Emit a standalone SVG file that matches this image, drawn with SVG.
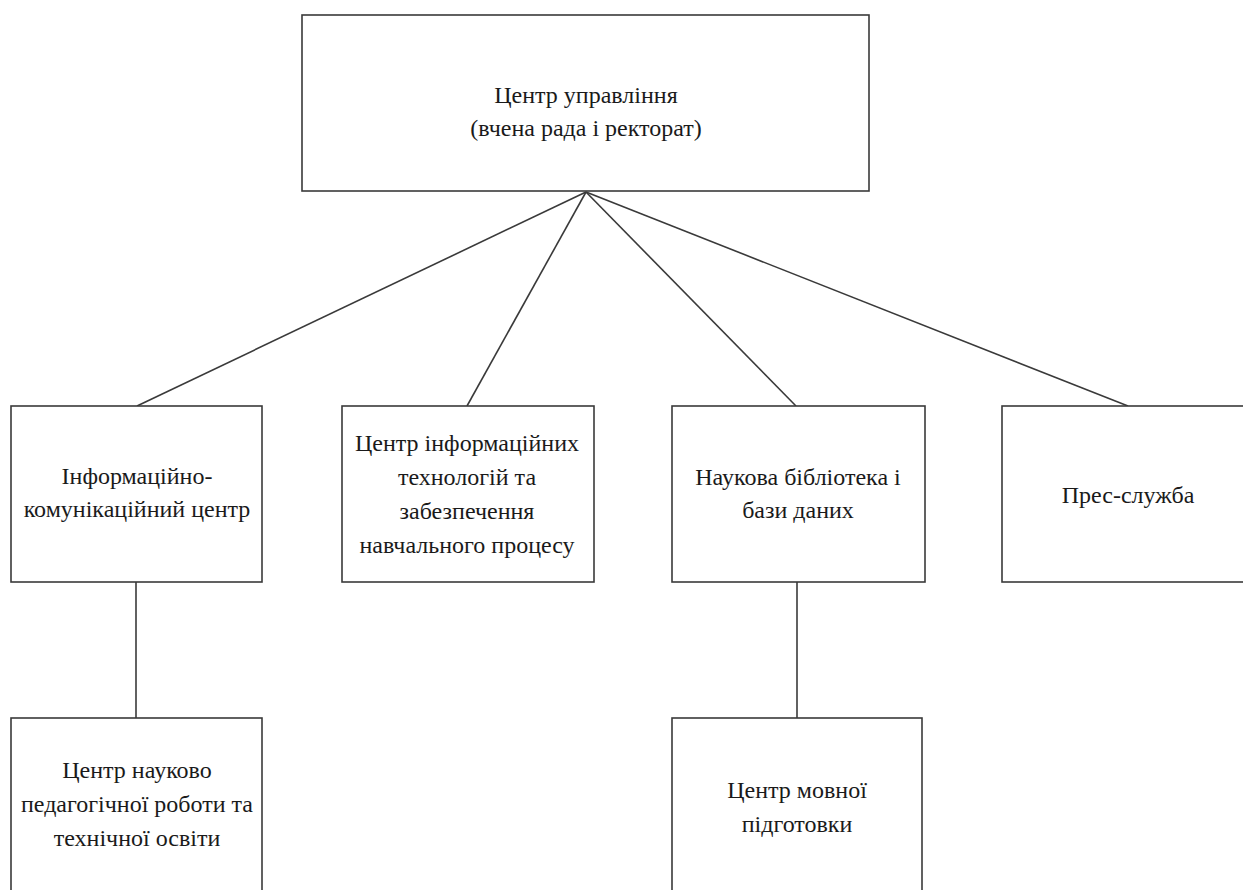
<svg xmlns="http://www.w3.org/2000/svg" width="1243" height="890" viewBox="0 0 1243 890">
<style>
.box{fill:#fff;stroke:#3a3a3a;stroke-width:1.6}
.ln{stroke:#3a3a3a;stroke-width:1.6;fill:none}
.t{font-family:'Liberation Serif','DejaVu Serif',serif;font-size:24px;fill:#1a1a1a;text-anchor:middle}
</style>
<rect width="1243" height="890" fill="#fff"/>
<g id="connectors">
<line class="ln" x1="586" y1="192" x2="137" y2="406"/>
<line class="ln" x1="586" y1="192" x2="467" y2="406"/>
<line class="ln" x1="586" y1="192" x2="796" y2="406"/>
<line class="ln" x1="586" y1="192" x2="1128" y2="406"/>
<line class="ln" x1="136" y1="582" x2="136" y2="718"/>
<line class="ln" x1="797" y1="582" x2="797" y2="718"/>
</g>
<g id="n-top">
<rect class="box" x="302" y="15" width="567" height="176"/>
<text class="t" x="586" y="103">Центр управління</text>
<text class="t" x="586" y="136">(вчена рада і ректорат)</text>
</g>
<g id="n-ikc">
<rect class="box" x="11" y="406" width="251" height="176"/>
<text class="t" x="137" y="484">Інформаційно-</text>
<text class="t" x="137" y="517">комунікаційний центр</text>
</g>
<g id="n-cit">
<rect class="box" x="342" y="406" width="252" height="176"/>
<text class="t" x="467" y="451">Центр інформаційних</text>
<text class="t" x="467" y="485">технологій та</text>
<text class="t" x="467" y="519">забезпечення</text>
<text class="t" x="467" y="553">навчального процесу</text>
</g>
<g id="n-lib">
<rect class="box" x="672" y="406" width="253" height="176"/>
<text class="t" x="798" y="485">Наукова бібліотека і</text>
<text class="t" x="798" y="518">бази даних</text>
</g>
<g id="n-press">
<rect class="box" x="1002" y="406" width="250" height="176"/>
<text class="t" x="1128" y="503">Прес-служба</text>
</g>
<g id="n-cnpr">
<rect class="box" x="11" y="718" width="251" height="190"/>
<text class="t" x="137" y="778">Центр науково</text>
<text class="t" x="137" y="812">педагогічної роботи та</text>
<text class="t" x="137" y="846">технічної освіти</text>
</g>
<g id="n-cmp">
<rect class="box" x="672" y="718" width="250" height="190"/>
<text class="t" x="797" y="798">Центр мовної</text>
<text class="t" x="797" y="832">підготовки</text>
</g>
</svg>
